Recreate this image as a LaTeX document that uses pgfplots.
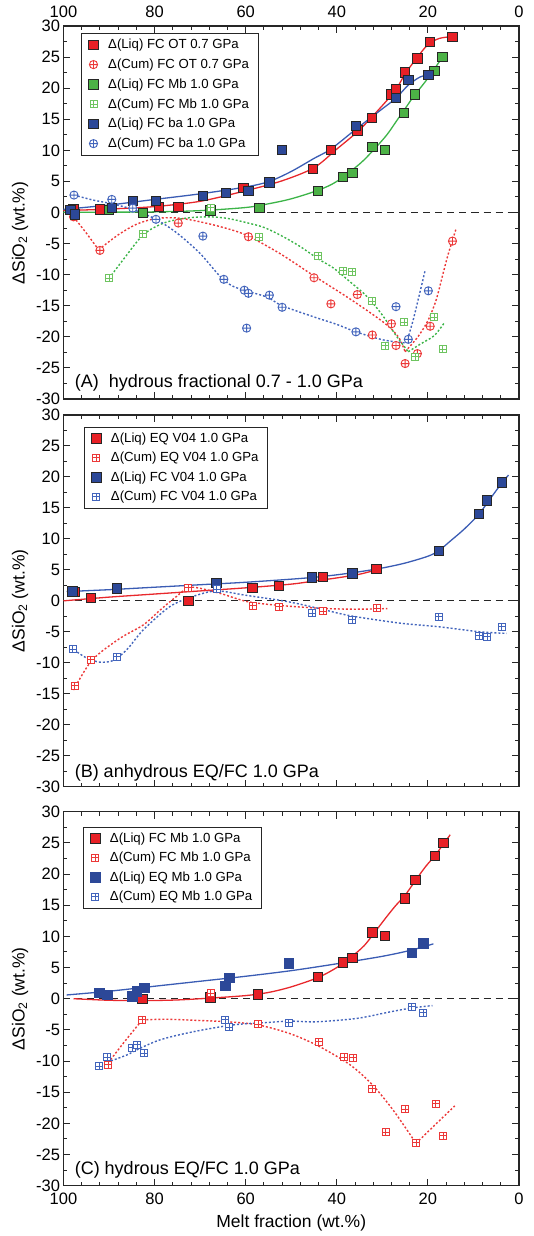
\documentclass[border=0pt]{standalone}
\usepackage{fontspec}
\setmainfont{Liberation Sans}
\usepackage{pgfplots}
\pgfplotsset{compat=1.18}
\definecolor{cred}{RGB}{232,32,38}
\definecolor{cblue}{RGB}{44,72,152}
\definecolor{cgreen}{RGB}{76,178,70}
\definecolor{lred}{RGB}{232,40,44}
\definecolor{lblue}{RGB}{58,92,180}
\definecolor{lgreen}{RGB}{60,180,72}
\definecolor{mred}{RGB}{236,56,56}
\definecolor{mblue}{RGB}{66,100,188}
\definecolor{mgreen}{RGB}{110,196,96}
% square with a plus inside
\pgfdeclareplotmark{boxplus}{%
  \pgfpathrectangle{\pgfqpoint{-\pgfplotmarksize}{-\pgfplotmarksize}}{\pgfqpoint{2\pgfplotmarksize}{2\pgfplotmarksize}}%
  \pgfusepathqfillstroke
  \pgfpathmoveto{\pgfqpoint{-\pgfplotmarksize}{0pt}}\pgfpathlineto{\pgfqpoint{\pgfplotmarksize}{0pt}}%
  \pgfpathmoveto{\pgfqpoint{0pt}{-\pgfplotmarksize}}\pgfpathlineto{\pgfqpoint{0pt}{\pgfplotmarksize}}%
  \pgfusepathqstroke}
\pgfplotsset{
  panel/.style={
    scale only axis, width=455.5pt, anchor=south west,
    xmin=0, xmax=100, x dir=reverse, ymin=-30, ymax=30,
    xtick={0,20,...,100}, minor x tick num=4,
    ytick={-30,-25,...,30}, minor y tick num=1,
    tick align=inside, xtick pos=both, ytick pos=both, yticklabel pos=left,
    major tick length=7pt, minor tick length=4pt,
    axis line style={line width=1.2pt, black!85},
    every tick/.append style={line width=1pt, black!85},
    /pgf/number format/assume math mode=true,
    tick label style={font=\fontsize{16.5}{18}\selectfont},
    label style={font=\fontsize{17.5}{20}\selectfont},
    ylabel={ΔSiO\textsubscript{2} (wt.\%)},
    ylabel style={at={(axis description cs:-0.0955,0.5)}, anchor=center},
    legend cell align=left,
    legend image code/.code={\draw[#1] plot coordinates {(0pt,0pt)};},
    legend style={at={(axis description cs:0,1)}, anchor=north west,
      draw=black!85, line width=0.6pt, fill=white,
      font=\fontsize{13.2}{15}\selectfont, row sep=4.7pt, column sep=8pt,
      inner xsep=7pt, inner ysep=4pt},
  },
  liq/.style={only marks, mark=square*, mark size=4.7pt,
    mark options={draw=black!85, line width=0.9pt, fill=#1}},
  cum/.style={only marks, mark=oplus*, mark size=4.1pt,
    mark options={draw=#1, line width=0.9pt, fill=white}},
  cumb/.style={only marks, mark=boxplus, mark size=3.5pt,
    mark options={draw=#1, line width=0.8pt, fill=white}},
  fit/.style={forget plot, smooth, line width=1.3pt, color=#1},
  dfit/.style={forget plot, smooth, line width=1.4pt, color=#1, dash pattern=on 2pt off 2pt},
  zero/.style={forget plot, black!85, line width=0.8pt, dash pattern=on 7pt off 5pt},
}
\begin{document}
\begin{tikzpicture}
\useasboundingbox (0,0) rectangle (533pt,1236pt);

% ---------------- (A)
\begin{axis}[panel, at={(63.5pt,837pt)}, height=373pt, xticklabel pos=right,
  xticklabel style={yshift=4.5pt},
  ylabel style={at={(axis description cs:-0.0955,0.445)}},
  legend style={xshift=18pt, yshift=-7pt}]
\addplot[zero] coordinates {(100,0) (0,0)};
\addplot[fit=lred] coordinates {(100,0.3) (90,0.55) (80,0.95) (70,1.8) (60,3.5) (52,5.1) (45,7.2) (40,10.2) (35,13.3) (30,17.2) (27,19.8) (25,22.3) (22.5,24.8) (20,27.0) (17.5,28.0) (14.6,28.3)};
\addplot[fit=lblue] coordinates {(100,0.5) (90,1.2) (80,2.1) (70,3.0) (60,4.1) (54.8,5.0) (50,6.6) (45,8.7) (41.3,10.2) (35.8,13.4) (30.5,16.4) (27,18.4) (24.3,20.5) (21.7,21.8) (19.9,22.1)};
\addplot[fit=lgreen] coordinates {(100,0.05) (90,0.05) (80,0.1) (70,0.3) (60,0.8) (55,1.4) (50,2.2) (44,3.6) (40,5.0) (35,7.8) (32,10) (29,12.5) (27,14.6) (25,16.7) (23.2,18.6) (20,21.6) (16.8,25.0)};
\addplot[dfit=mred] coordinates {(97.8,-0.7) (95,-3.3) (92.3,-6.0)};
\addplot[dfit=mred] coordinates {(92.3,-6.0) (88,-3.6) (84,-1.9) (80,-1.0) (76,-0.85) (72,-1.2) (66,-2.2) (60,-3.6) (52.5,-6.6) (45,-10.2) (36.5,-14.2) (29.5,-17.8) (26.5,-20.0) (25,-22.4)};
\addplot[dfit=mred] coordinates {(25,-22.4) (22.2,-20.0) (20,-17.4) (18.2,-14.1) (16.7,-9.9) (15.5,-6.6) (13.8,-2.6)};
\addplot[dfit=lgreen] coordinates {(90,-10.6) (86.9,-7.6) (82.5,-3.6) (78,-1.7) (73,-0.9) (68,-0.7) (64,-0.95) (60,-1.6) (56,-2.4) (52,-3.8) (48,-5.5) (44,-7.5) (40.8,-8.9) (37,-11.2) (33.4,-13.5) (30,-16.5) (27,-19.8) (24.3,-22.4)};
\addplot[dfit=lgreen] coordinates {(24.3,-22.4) (21.5,-21.1) (18.6,-19.8) (16.25,-17.6)};
\addplot[dfit=mblue] coordinates {(97.7,2.8) (93.5,2.0) (89.4,1.4) (84.8,0.5) (79.7,-1.1) (75.1,-3.3) (70,-6.6) (65.6,-10.3) (62.7,-11.9) (58,-13.0) (55,-13.7) (52,-15.0) (44.6,-16.9) (40,-18.0) (35.8,-19.2) (29.8,-20.5) (24.7,-21.0)};
\addplot[dfit=mblue] coordinates {(24.7,-21.0) (23.2,-17.2) (21.8,-13.0) (20.6,-9.3)};
\addplot[liq=cred] coordinates {(97.8,0.6) (92.0,0.5) (79.0,0.85) (74.8,0.85) (60.5,3.9) (45.2,7.05) (41.3,10.1) (35.5,13.2) (32.3,15.2) (28.0,19.0) (27.0,19.8) (25.0,22.5) (22.3,24.8) (19.5,27.4) (14.6,28.2)};
\addlegendentry{Δ(Liq) FC OT 0.7 GPa}
\addplot[cum=mred] coordinates {(97.8,-0.7) (92.0,-6.1) (74.8,-1.7) (59.4,-3.9) (45.0,-10.5) (41.3,-14.7) (35.5,-13.2) (32.2,-19.7) (28.0,-17.9) (27.0,-21.4) (25.0,-24.3) (22.3,-22.7) (19.5,-18.3) (14.6,-4.6)};
\addlegendentry{Δ(Cum) FC OT 0.7 GPa}
\addplot[liq=cgreen] coordinates {(90.0,0.4) (82.6,-0.1) (67.7,0.3) (57.0,0.7) (44.1,3.5) (38.6,5.75) (36.6,6.4) (32.2,10.5) (29.4,10.05) (25.2,16.05) (22.8,19.0) (18.6,22.8) (16.8,25.0)};
\addlegendentry{Δ(Liq) FC Mb 1.0 GPa}
\addplot[cumb=mgreen] coordinates {(90.0,-10.6) (82.6,-3.4) (67.7,0.8) (57.0,-4.0) (44.1,-6.95) (38.6,-9.35) (36.6,-9.5) (32.2,-14.3) (29.4,-21.4) (25.2,-17.6) (22.8,-23.2) (18.6,-16.8) (16.8,-22.0)};
\addlegendentry{Δ(Cum) FC Mb 1.0 GPa}
\addplot[liq=cblue] coordinates {(98.5,0.4) (97.5,-0.3) (89.4,0.7) (84.8,1.9) (79.7,1.9) (69.4,2.65) (64.3,3.1) (59.4,3.5) (54.8,4.8) (52.0,10.05) (35.8,13.9) (27.0,18.4) (24.3,21.3) (19.9,22.1)};
\addlegendentry{Δ(Liq) FC ba 1.0 GPa}
\addplot[cum=mblue] coordinates {(97.7,2.8) (89.4,2.1) (84.8,0.7) (79.7,-1.1) (69.4,-3.8) (64.8,-10.75) (60.3,-12.5) (59.4,-13.0) (59.8,-18.6) (54.8,-13.3) (52.0,-15.25) (35.8,-19.2) (27.0,-15.15) (24.3,-20.4) (19.9,-12.6)};
\addlegendentry{Δ(Cum) FC ba 1.0 GPa}
\node[anchor=west, font=\fontsize{18}{20}\selectfont] at (axis description cs:0.017,0.044) {(A)\ \ hydrous fractional 0.7 - 1.0 GPa};
\end{axis}

% ---------------- (B)
\begin{axis}[panel, at={(63.5pt,449.3pt)}, height=371.7pt, xticklabels={},
  legend style={xshift=20.8pt, yshift=-11.7pt, row sep=4.3pt}]
\addplot[zero] coordinates {(100,0) (0,0)};
\addplot[fit=lred] coordinates {(100,0) (90,0.6) (80,1.1) (70,1.6) (60,2.1) (50,2.7) (45,3.2) (40,3.7) (35,4.3) (31.3,5.0)};
\addplot[fit=lblue] coordinates {(99.3,1.5) (90,1.8) (80,2.2) (70,2.6) (60,3.0) (50,3.5) (45,3.8) (40,4.2) (35,4.7) (30,5.3) (25,6.1) (20,7.2) (17.6,8.1) (15,9.7) (12,11.6) (8.8,14.0) (6,16.8) (3.8,19.0) (2.3,20.3)};
\addplot[dfit=mred] coordinates {(97.8,-14.4) (93.7,-9.55) (87.6,-6.05) (82.5,-3.9) (78.8,-1.5) (75.2,0.7) (72,2.2) (65.6,1.2) (59.8,-0.1) (53.2,-0.7) (43.7,-1.2) (36,-1.35) (28.9,-1.25)};
\addplot[dfit=mblue] coordinates {(97.7,-7.9) (95,-9.2) (92,-9.9) (89,-9.6) (86,-7.8) (82.5,-4.7) (76.7,-0.95) (71.6,0.7) (66.4,1.6) (60,0.9) (51,-0.1) (44.1,-1.2) (37.1,-2.4) (26.1,-3.6) (17.4,-4.2) (8.6,-5.0) (2.7,-5.25)};
\addplot[liq=cred] coordinates {(97.5,1.4) (94.0,0.5) (72.6,0.0) (58.5,2.1) (52.7,2.4) (43.0,3.9) (31.3,5.1)};
\addlegendentry{Δ(Liq) EQ V04 1.0 GPa}
\addplot[cumb=mred] coordinates {(97.5,-13.7) (94.0,-9.5) (72.6,2.1) (58.5,-0.8) (52.7,-0.9) (43.0,-1.7) (31.3,-1.2)};
\addlegendentry{Δ(Cum) EQ V04 1.0 GPa}
\addplot[liq=cblue] coordinates {(98.0,1.5) (88.3,2.0) (66.4,2.9) (45.4,3.8) (36.6,4.4) (17.6,8.1) (8.8,14.0) (7.0,16.2) (3.8,19.1)};
\addlegendentry{Δ(Liq) FC V04 1.0 GPa}
\addplot[cumb=mblue] coordinates {(98.0,-7.8) (88.3,-9.0) (66.4,1.9) (45.4,-2.0) (36.6,-3.0) (17.6,-2.55) (8.8,-5.6) (7.0,-5.8) (3.8,-4.2)};
\addlegendentry{Δ(Cum) FC V04 1.0 GPa}
\node[anchor=west, font=\fontsize{18}{20}\selectfont] at (axis description cs:0.017,0.036) {(B) anhydrous EQ/FC 1.0 GPa};
\end{axis}

% ---------------- (C)
\begin{axis}[panel, at={(63.5pt,50.3pt)}, height=374pt,
  xticklabel style={yshift=-4pt},
  xlabel={Melt fraction (wt.\%)},
  xlabel style={at={(axis description cs:0.5,0)}, yshift=-37.6pt, anchor=center},
  legend style={xshift=19.8pt, yshift=-15pt, row sep=4.3pt}]
\addplot[zero] coordinates {(100,0) (0,0)};
\addplot[fit=lred] coordinates {(97.8,0) (90,-0.25) (82,-0.3) (75,-0.2) (67.7,0.1) (60,0.5) (55,1.0) (50,1.9) (44.1,3.4) (40,5.0) (37,6.6) (34,8.5) (31,11.3) (29,13.2) (27,15.0) (25,16.6) (22.7,19.0) (20.5,21.2) (18.4,23.0) (16.6,24.8) (15.1,26.3)};
\addplot[fit=lblue] coordinates {(99.3,0.6) (90,1.2) (80,2.0) (70,2.8) (60,3.6) (50,4.5) (40,5.6) (30,6.8) (23.6,7.8) (18.8,8.8)};
\addplot[dfit=mred] coordinates {(90.2,-10.3) (86.5,-6.8) (82.7,-3.4)};
\addplot[dfit=mred] coordinates {(82.7,-3.4) (77.3,-3.3) (70,-3.5) (64,-3.7) (57.3,-4.2) (50.3,-5.6) (44,-7.6) (37.1,-10.6) (32.2,-13.8) (27.6,-17.9) (22.6,-23.2)};
\addplot[dfit=mred] coordinates {(22.6,-23.2) (18.8,-20.5) (14.1,-17.2)};
\addplot[dfit=mblue] coordinates {(90.4,-10.2) (86,-9.0) (83.9,-8.2) (78.8,-6.6) (71.5,-5.3) (62.7,-4.2) (55,-3.8) (50.2,-3.6) (44.3,-3.7) (35.5,-3.15) (28.2,-2.1) (23.6,-1.5) (19.0,-1.1)};
\addplot[liq=cred] coordinates {(82.7,-0.05) (67.7,0.2) (57.3,0.7) (44.1,3.5) (38.6,5.8) (36.6,6.5) (32.2,10.6) (29.4,10.1) (25.0,16.1) (22.7,19.05) (18.4,22.9) (16.6,25.0)};
\addlegendentry{Δ(Liq) FC Mb 1.0 GPa}
\addplot[cumb=mred] coordinates {(90.2,-10.6) (82.7,-3.4) (67.7,0.9) (57.3,-4.1) (44.0,-6.9) (38.4,-9.4) (36.4,-9.45) (32.2,-14.4) (29.3,-21.4) (25.0,-17.7) (22.6,-23.1) (18.3,-16.8) (16.6,-22.0)};
\addlegendentry{Δ(Cum) FC Mb 1.0 GPa}
\addplot[only marks, mark=square*, mark size=4.7pt, mark options={draw=cblue, fill=cblue}] coordinates {(92.2,0.95) (90.4,0.6) (84.9,0.4) (83.9,1.2) (82.3,1.8) (64.5,2.1) (63.6,3.4) (50.6,5.7) (23.6,7.4) (21.0,8.9)};
\addlegendentry{Δ(Liq) EQ Mb 1.0 GPa}
\addplot[cumb=mblue] coordinates {(92.2,-10.8) (90.4,-9.4) (84.9,-7.85) (83.8,-7.4) (82.3,-8.7) (64.5,-3.4) (63.6,-4.6) (50.6,-3.85) (23.6,-1.3) (21.0,-2.2)};
\addlegendentry{Δ(Cum) EQ Mb 1.0 GPa}
\node[anchor=west, font=\fontsize{18}{20}\selectfont] at (axis description cs:0.017,0.042) {(C) hydrous EQ/FC 1.0 GPa};
\end{axis}
\end{tikzpicture}
\end{document}
